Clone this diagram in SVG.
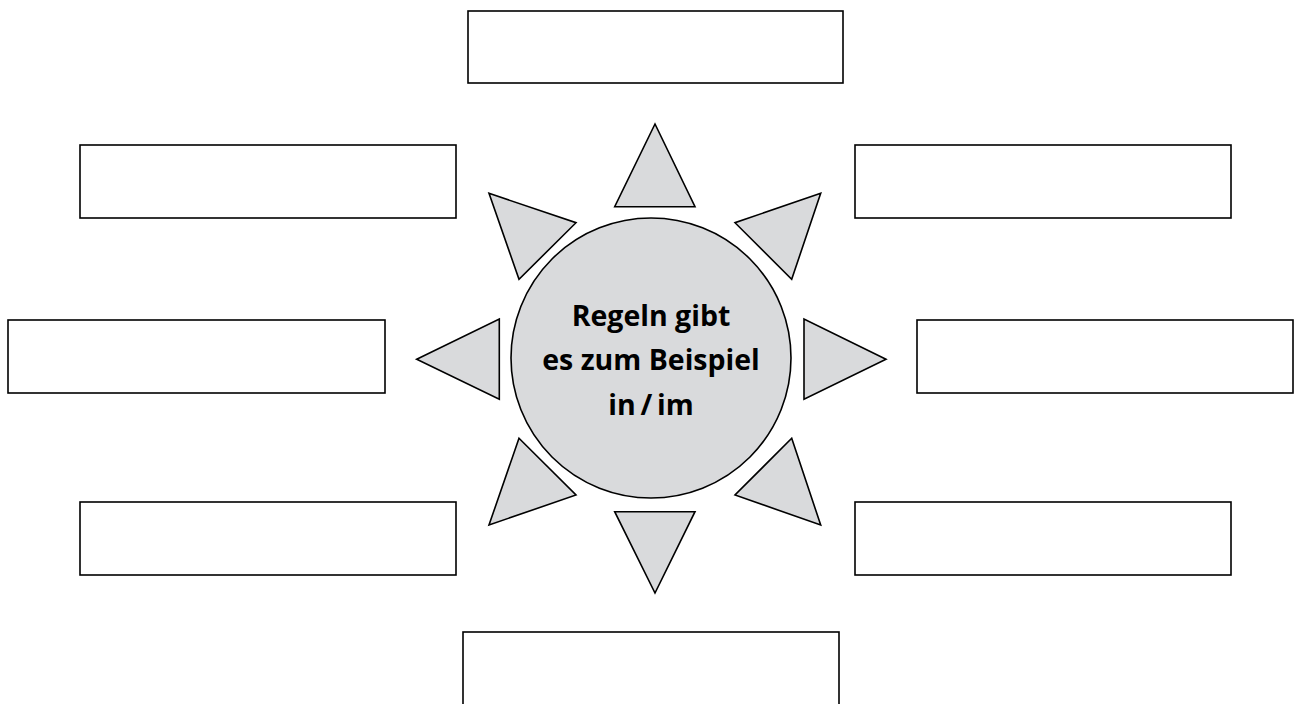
<svg xmlns="http://www.w3.org/2000/svg" width="1300" height="704" viewBox="0 0 1300 704">
<style>
.box{fill:#fff;stroke:#000;stroke-width:1.6}
.ray{fill:#d9dadc;stroke:#000;stroke-width:1.6;stroke-linejoin:miter}
.hub{fill:#d9dadc;stroke:#000;stroke-width:1.6}
.lbl{font-family:"Open Sans","Noto Sans","Liberation Sans",sans-serif;font-weight:700;font-size:28.5px;fill:#000;text-anchor:middle}
</style>
<rect width="1300" height="704" fill="#fff"/>
<g id="box-top"><rect class="box" x="468" y="11" width="375" height="72"/></g>
<g id="box-upper-left"><rect class="box" x="80" y="145" width="376" height="73"/></g>
<g id="box-upper-right"><rect class="box" x="855" y="145" width="376" height="73"/></g>
<g id="box-mid-left"><rect class="box" x="8" y="320" width="377" height="73"/></g>
<g id="box-mid-right"><rect class="box" x="917" y="320" width="376" height="73"/></g>
<g id="box-lower-left"><rect class="box" x="80" y="502" width="376" height="73"/></g>
<g id="box-lower-right"><rect class="box" x="855" y="502" width="376" height="73"/></g>
<g id="box-bottom"><rect class="box" x="463" y="632" width="376" height="74"/></g>
<g id="rays">
<polygon class="ray" points="655,124 614.7,206.7 695,206.7"/>
<polygon class="ray" points="489,193.3 576,222.7 519,279.3"/>
<polygon class="ray" points="820.7,193.3 735,222.7 791.7,279.3"/>
<polygon class="ray" points="416.7,359.3 499.3,319 499.3,399.3"/>
<polygon class="ray" points="886,359.3 804,319 804,399.3"/>
<polygon class="ray" points="519,438.3 576,495 489,525"/>
<polygon class="ray" points="791.7,438.3 735,495 820.7,525"/>
<polygon class="ray" points="614.7,511.7 695,511.7 655,593"/>
</g>
<g id="center">
<circle class="hub" cx="651" cy="358" r="140"/>
<text class="lbl" x="651" y="326">Regeln gibt</text>
<text class="lbl" x="651" y="370">es zum Beispiel</text>
<text class="lbl" x="651" y="415">in&#8201;/&#8201;im</text>
</g>
</svg>
